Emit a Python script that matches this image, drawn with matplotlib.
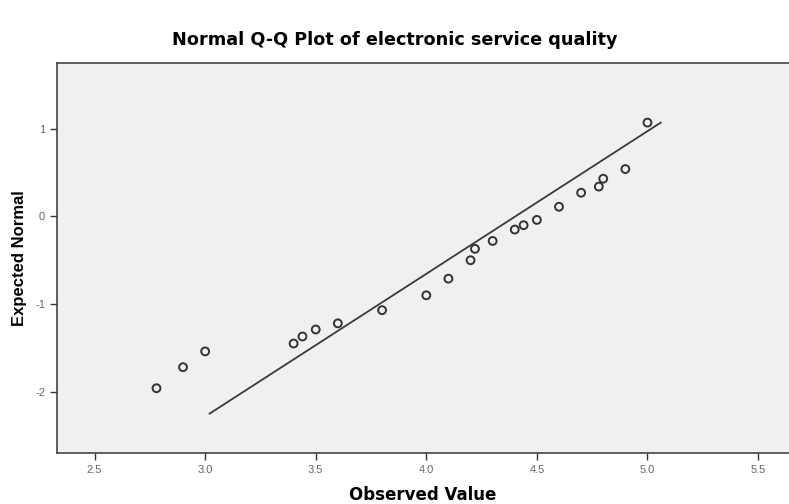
import matplotlib.pyplot as plt

observed = [2.78, 2.9, 3.0, 3.4, 3.44, 3.5, 3.6, 3.8, 4.0, 4.1, 4.2,
            4.22, 4.3, 4.4, 4.44, 4.5, 4.6, 4.7, 4.78, 4.8, 4.9, 5.0]
expected = [-1.96, -1.72, -1.54, -1.45, -1.37, -1.29, -1.22, -1.07, -0.90,
            -0.71, -0.50, -0.37, -0.28, -0.15, -0.10, -0.04, 0.11, 0.27,
            0.34, 0.43, 0.54, 1.07]
# reference line end points
line_x = [3.02, 5.06]
line_y = [-2.25, 1.07]

x_ticks = [2.5, 3.0, 3.5, 4.0, 4.5, 5.0, 5.5]
y_ticks = [-2, -1, 0, 1]

plt.rcParams['font.family'] = ['Liberation Sans', 'DejaVu Sans']

fig = plt.figure(figsize=(7.89, 5.04), dpi=100)
ax = fig.add_axes([0.0722, 0.101, 0.9278, 0.774])
ax.set_facecolor('#f0f0f0')

ax.plot(line_x, line_y, color='#3a3a3a', linewidth=1.3, zorder=2)
ax.scatter(observed, expected, s=32, facecolors='none', edgecolors='#333333',
           linewidths=1.4, zorder=3)

ax.set_xlim(2.33, 5.64)
ax.set_ylim(-2.70, 1.75)
ax.set_xticks(x_ticks)
ax.set_xticklabels([f'{t:.1f}' for t in x_ticks])
ax.set_yticks(y_ticks)
ax.set_yticklabels([str(t) for t in y_ticks])
ax.tick_params(direction='out', length=5, width=1, color='#333333',
               labelcolor='#666666', labelsize=8)

for side in ['left', 'bottom', 'top']:
    ax.spines[side].set_color('#444444')
    ax.spines[side].set_linewidth(1.2)
ax.spines['right'].set_visible(False)

ax.set_xlabel('Observed Value', fontsize=12, fontweight='bold', labelpad=8,
              family=['DejaVu Sans'])
ax.set_ylabel('Expected Normal', fontsize=12, fontweight='bold', labelpad=6)
fig.text(0.5, 0.92, 'Normal Q-Q Plot of electronic service quality',
         ha='center', va='center', fontsize=12.7, fontweight='bold',
         family=['DejaVu Sans'])

fig.savefig('out.png', dpi=100)
